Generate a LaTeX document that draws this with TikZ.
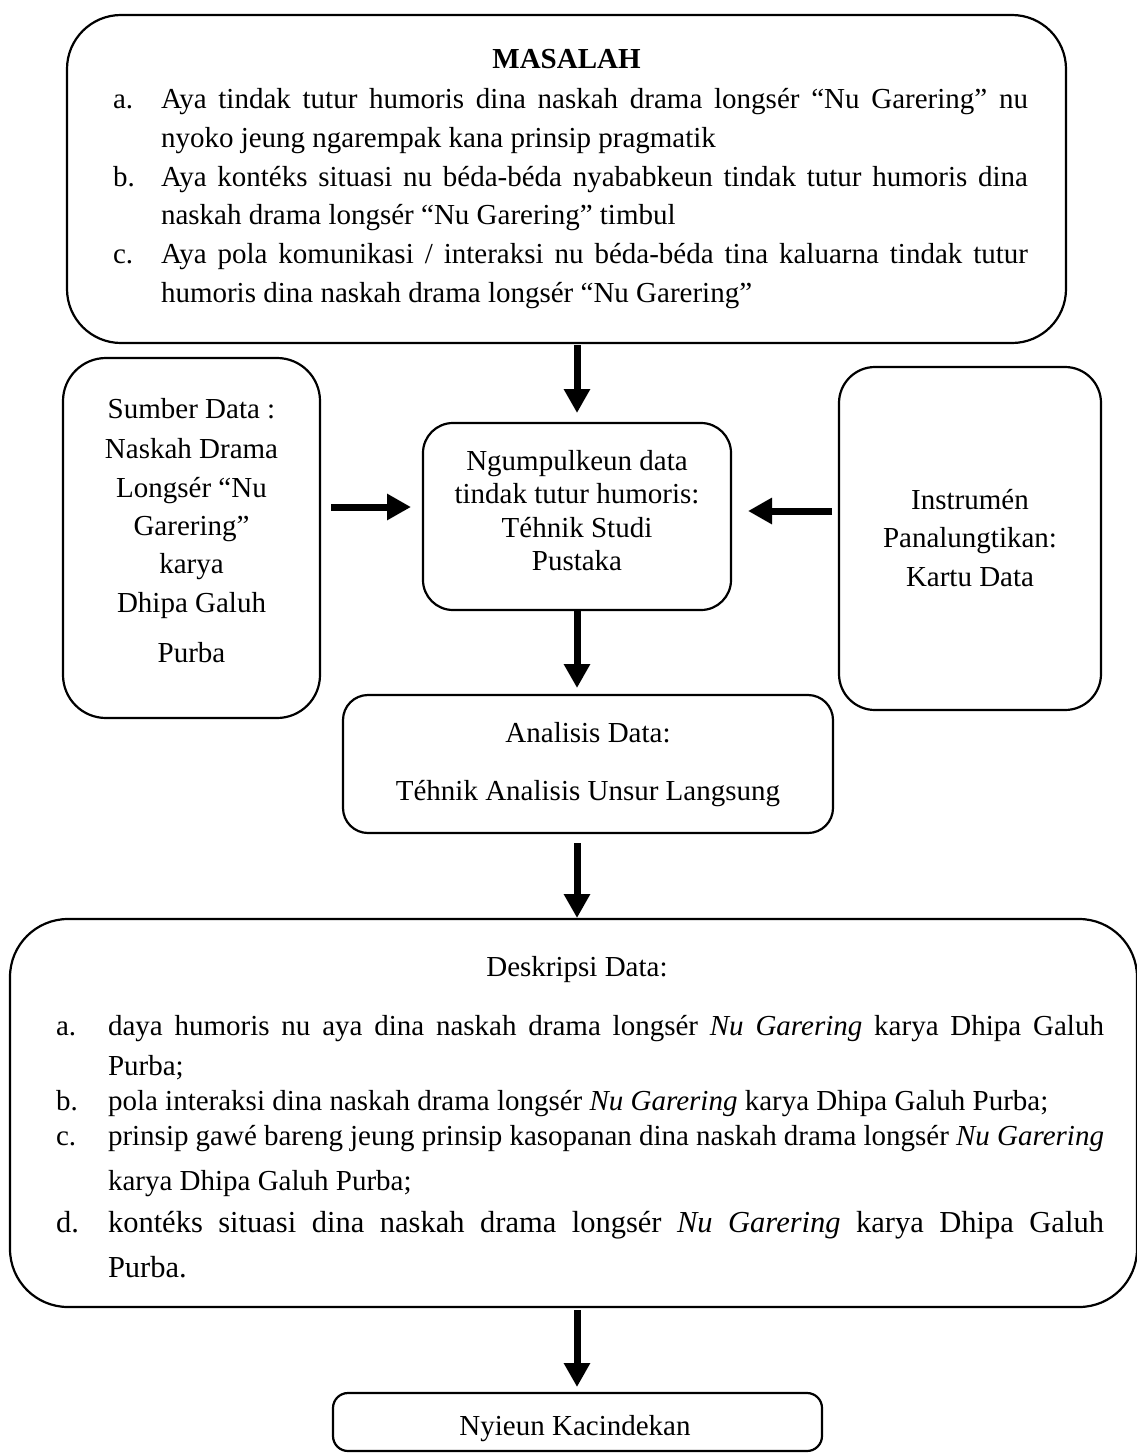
\documentclass[tikz,border=0pt]{standalone}
\usepackage{fontspec}
\setmainfont{Liberation Serif}
\usetikzlibrary{arrows.meta}
\newcommand\fsn{\fontsize{29}{38}\selectfont}
\newcommand\fsd{\fontsize{30.5}{38}\selectfont}
\tikzset{
  box/.style={draw, line width=2.2pt, inner sep=0pt, outer sep=0pt},
  txt/.style={anchor=base, inner sep=0pt, outer sep=0pt, font=\fsn},
  ltxt/.style={anchor=base west, inner sep=0pt, outer sep=0pt, font=\fsn},
  arr/.style={line width=7pt, -{Triangle[length=24pt,width=25pt]}}
}
\begin{document}
\begin{tikzpicture}[x=1pt,y=-1pt]
\fill[white] (0,0) rectangle (1136,1456);
\useasboundingbox (0,0) rectangle (1136,1456);
% boxes
\node[box, rounded corners=54pt, minimum width=999pt, minimum height=328pt] (top) at (566.5,179) {};
\node[box, rounded corners=43pt, minimum width=257pt, minimum height=360pt] (src) at (191.5,538) {};
\node[box, rounded corners=30pt, minimum width=308pt, minimum height=187pt] (collect) at (577,516.5) {};
\node[box, rounded corners=36pt, minimum width=262pt, minimum height=343pt] (instr) at (970,538.5) {};
\node[box, rounded corners=25pt, minimum width=490pt, minimum height=138pt] (anal) at (588,764) {};
\node[box, rounded corners=58pt, minimum width=1127pt, minimum height=388pt] (desc) at (573.5,1113) {};
\node[box, rounded corners=15pt, minimum width=489pt, minimum height=58pt] (final) at (577.5,1422) {};
% top box text
\node[txt, font=\fsn\bfseries] (t0) at (566.5,68) {MASALAH};
\node[ltxt] (ta) at (113,108) {a.};
\node[ltxt] (ta1) at (161,108) {\makebox[867pt][s]{Aya tindak tutur humoris dina naskah drama longsér “Nu Garering” nu}};
\node[ltxt] (ta2) at (161,147) {nyoko jeung ngarempak kana prinsip pragmatik};
\node[ltxt] (tb) at (113,186) {b.};
\node[ltxt] (tb1) at (161,186) {\makebox[867pt][s]{Aya kontéks situasi nu béda-béda nyababkeun tindak tutur humoris dina}};
\node[ltxt] (tb2) at (161,224) {naskah drama longsér “Nu Garering” timbul};
\node[ltxt] (tc) at (113,263) {c.};
\node[ltxt] (tc1) at (161,263) {\makebox[867pt][s]{Aya pola komunikasi / interaksi nu béda-béda tina kaluarna tindak tutur}};
\node[ltxt] (tc2) at (161,302) {humoris dina naskah drama longsér “Nu Garering”};
% source box text
\node[txt] (s1) at (191.5,418) {Sumber Data :};
\node[txt] (s2) at (191.5,458) {Naskah Drama};
\node[txt] (s3) at (191.5,497) {Longsér “Nu};
\node[txt] (s4) at (191.5,535) {Garering”};
\node[txt] (s5) at (191.5,573) {karya};
\node[txt] (s6) at (191.5,612) {Dhipa Galuh};
\node[txt] (s7) at (191.5,662) {Purba};
% collect box text
\node[txt] (c1) at (577,470) {Ngumpulkeun data};
\node[txt] (c2) at (577,503) {tindak tutur humoris:};
\node[txt] (c3) at (577,537) {Téhnik Studi};
\node[txt] (c4) at (577,570) {Pustaka};
% instrument box text
\node[txt] (i1) at (970,509) {Instrumén};
\node[txt] (i2) at (970,547) {Panalungtikan:};
\node[txt] (i3) at (970,586) {Kartu Data};
% analysis box text
\node[txt] (a1) at (588,742) {Analisis Data:};
\node[txt] (a2) at (588,800) {Téhnik Analisis Unsur Langsung};
% description box text
\node[txt] (d0) at (577,976) {Deskripsi Data:};
\node[ltxt] (da) at (56,1035) {a.};
\node[ltxt] (da1) at (108,1035) {\makebox[996pt][s]{daya humoris nu aya dina naskah drama longsér \textit{Nu Garering} karya Dhipa Galuh}};
\node[ltxt] (da2) at (108,1075) {Purba;};
\node[ltxt] (db) at (56,1110) {b.};
\node[ltxt] (db1) at (108,1110) {pola interaksi dina naskah drama longsér \textit{Nu Garering} karya Dhipa Galuh Purba;};
\node[ltxt] (dc) at (56,1145) {c.};
\node[ltxt] (dc1) at (108,1145) {\makebox[996pt][s]{prinsip gawé bareng jeung prinsip kasopanan dina naskah drama longsér \textit{Nu Garering}}};
\node[ltxt] (dc2) at (108,1190) {karya Dhipa Galuh Purba;};
\node[ltxt, font=\fsd] (dd) at (56,1232) {d.};
\node[ltxt, font=\fsd] (dd1) at (108,1232) {\makebox[996pt][s]{kontéks situasi dina naskah drama longsér \textit{Nu Garering} karya Dhipa Galuh}};
\node[ltxt, font=\fsd] (dd2) at (108,1277) {Purba.};
% final box text
\node[txt] (f1) at (575,1435) {Nyieun Kacindekan};
% helper coordinates for horizontal arrows
\coordinate (ly) at (0,507);
\coordinate (ry) at (0,511);
% arrows
\draw[arr, shorten <=2pt, shorten >=10pt] (top.south -| collect.north) -- (collect.north);
\draw[arr, shorten >=7pt] (collect.south) -- (collect.south |- anal.north);
\draw[arr, shorten <=10pt, shorten >=1pt] (collect.south |- anal.south) -- (collect.south |- desc.north);
\draw[arr, shorten <=3pt, shorten >=6pt] (collect.south |- desc.south) -- (collect.south |- final.north);
\draw[arr, shorten <=11pt, shorten >=12pt] (src.east |- ly) -- (collect.west |- ly);
\draw[arr, shorten <=7pt, shorten >=17pt] (instr.west |- ry) -- (collect.east |- ry);
\end{tikzpicture}
\end{document}
